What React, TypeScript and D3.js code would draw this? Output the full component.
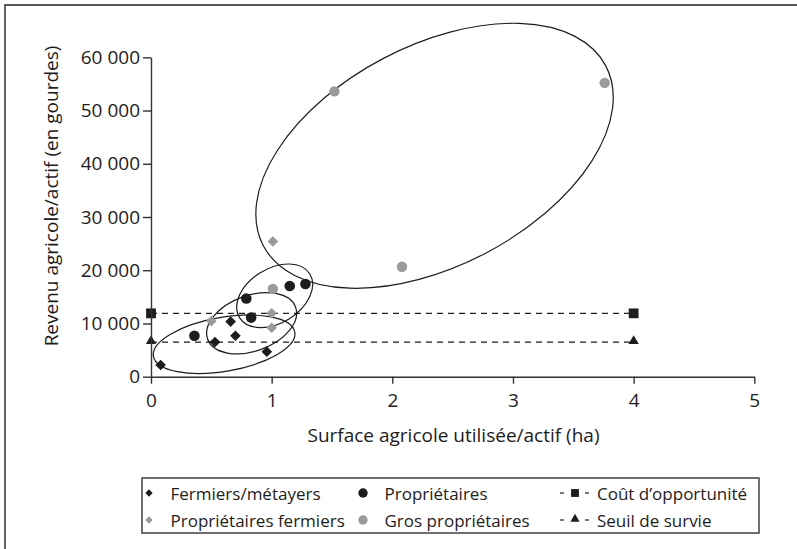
import { useEffect, useRef } from 'react';
import * as d3 from 'd3';

type Pt = [number, number];

// surface (ha/actif), revenu (gourdes/actif)
const fermiers: Pt[] = [[0.08, 2200], [0.53, 6500], [0.66, 10350], [0.70, 7700], [0.96, 4700]];
const proprietairesFermiers: Pt[] = [[0.50, 10450], [1.0, 11900], [1.0, 9200], [1.01, 25400]];
const proprietaires: Pt[] = [[0.36, 7700], [0.79, 14700], [0.83, 11100], [1.15, 17050], [1.28, 17400]];
const grosProprietaires: Pt[] = [[1.01, 16500], [1.52, 53600], [3.76, 55200], [2.08, 20650]];

const coutOpportunite = 11900;
const seuilSurvie = 6500;
const seuilExtent = [0, 4];

const xTicks = [0, 1, 2, 3, 4, 5];
const yTicks = [0, 10000, 20000, 30000, 40000, 50000, 60000];

// groupes entourés : centre en données, demi-axes en px, inclinaison en degrés
const groupes = [
  { cx: 0.606, cy: 6100, rx: 71.7, ry: 27, angle: -9.7 },
  { cx: 0.834, cy: 10040, rx: 46.8, ry: 27.8, angle: -20 },
  { cx: 1.025, cy: 15200, rx: 41.4, ry: 27.2, angle: -31.8 },
  { cx: 2.35, cy: 41500, rx: 193.4, ry: 110, angle: -27.7 },
];

const legendLabels = [
  'Fermiers/métayers', 'Propriétaires', 'Coût d’opportunité',
  'Propriétaires fermiers', 'Gros propriétaires', 'Seuil de survie',
];

const BLACK = '#1e1c1d';
const GRAY = '#9a9a9c';
const FONT = '"Open Sans", sans-serif';

const fr = d3.formatLocale({ decimal: ',', thousands: '\u00a0', grouping: [3], currency: ['', ' €'] });

export default function App() {
  const xAxisRef = useRef<SVGGElement | null>(null);
  const yAxisRef = useRef<SVGGElement | null>(null);

  const x = d3.scaleLinear().domain([0, 5]).range([151, 754.3]);
  const y = d3.scaleLinear().domain([0, 60000]).range([376.7, 57.3]);

  const diamond = d3.symbol(d3.symbolDiamond2, 72)()!;
  const diamondSmall = d3.symbol(d3.symbolDiamond2, 34)()!;
  const square = d3.symbol(d3.symbolSquare, 96)()!;
  const squareSmall = d3.symbol(d3.symbolSquare, 62)()!;
  const triangle = d3.symbol(d3.symbolTriangle, 46)()!;
  const triangleSmall = d3.symbol(d3.symbolTriangle, 36)()!;

  useEffect(() => {
    if (!xAxisRef.current || !yAxisRef.current) return;
    const gx = d3.select(xAxisRef.current);
    gx.call(d3.axisBottom(x).tickValues(xTicks).tickSize(7).tickPadding(10).tickSizeOuter(0).tickFormat(d3.format('d')));
    const gy = d3.select(yAxisRef.current);
    gy.call(d3.axisLeft(y).tickValues(yTicks).tickSize(8).tickPadding(3).tickSizeOuter(0).tickFormat(fr.format(',')));
    [gx, gy].forEach((g) => {
      g.attr('font-family', FONT).attr('font-size', 19);
      g.select('.domain').attr('stroke', '#333').attr('stroke-width', 1.4);
      g.selectAll('.tick line').attr('stroke', '#333').attr('stroke-width', 1.4);
      g.selectAll('.tick text').attr('fill', BLACK);
    });
  }, []);

  const legendRows = [493, 520];
  const legendCols = [149, 363, 575];

  return (
    <svg width={797} height={549} style={{ position: 'absolute', left: 0, top: 0 }} fontFamily={FONT}>
      <rect width={797} height={549} fill="#fff" />
      <path d="M5,549V5H797" fill="none" stroke="#555" strokeWidth={1.8} />

      {/* lignes de référence */}
      {[coutOpportunite, seuilSurvie].map((v) => (
        <line key={v} x1={x(seuilExtent[0])} x2={x(seuilExtent[1])} y1={y(v)} y2={y(v)}
          stroke={BLACK} strokeWidth={1.2} strokeDasharray="6,5" />
      ))}
      {seuilExtent.map((s) => (
        <g key={s}>
          <path d={square} transform={`translate(${x(s)},${y(coutOpportunite)})`} fill={BLACK} />
          <path d={triangle} transform={`translate(${x(s)},${y(seuilSurvie) - 1})`} fill={BLACK} />
        </g>
      ))}

      <g ref={xAxisRef} transform={`translate(0,${y(0)})`} />
      <g ref={yAxisRef} transform={`translate(${x(0)},0)`} />

      {/* ellipses */}
      {groupes.map((e, i) => (
        <ellipse key={i} cx={0} cy={0} rx={e.rx} ry={e.ry}
          transform={`translate(${x(e.cx)},${y(e.cy)}) rotate(${e.angle})`}
          fill="none" stroke={BLACK} strokeWidth={1.2} />
      ))}

      {/* points */}
      {fermiers.map((d, i) => (
        <path key={`f${i}`} d={diamond} transform={`translate(${x(d[0])},${y(d[1])})`} fill={BLACK} />
      ))}
      {proprietairesFermiers.map((d, i) => (
        <path key={`pf${i}`} d={diamond} transform={`translate(${x(d[0])},${y(d[1])})`} fill={GRAY} />
      ))}
      {proprietaires.map((d, i) => (
        <circle key={`p${i}`} cx={x(d[0])} cy={y(d[1])} r={5.3} fill={BLACK} />
      ))}
      {grosProprietaires.map((d, i) => (
        <circle key={`g${i}`} cx={x(d[0])} cy={y(d[1])} r={5.2} fill={GRAY} />
      ))}

      {/* titres des axes */}
      <text x={453.5} y={435} textAnchor="middle" dominantBaseline="central" fontSize={19} fill={BLACK}>
        Surface agricole utilisée/actif (ha)
      </text>
      <text transform="translate(51,196) rotate(-90)" textAnchor="middle" dominantBaseline="central" fontSize={19} fill={BLACK}>
        Revenu agricole/actif (en gourdes)
      </text>

      {/* légende */}
      <rect x={142} y={478} width={617} height={55} fill="none" stroke="#333" strokeWidth={1.4} />
      <path d={diamondSmall} transform={`translate(${legendCols[0]},${legendRows[0]})`} fill={BLACK} />
      <path d={diamondSmall} transform={`translate(${legendCols[0]},${legendRows[1]})`} fill={GRAY} />
      <circle cx={legendCols[1]} cy={legendRows[0]} r={4.7} fill={BLACK} />
      <circle cx={legendCols[1]} cy={legendRows[1]} r={4.7} fill={GRAY} />
      {legendRows.map((ry) => (
        <g key={ry}>
          <line x1={legendCols[2] - 15} x2={legendCols[2] - 11} y1={ry} y2={ry} stroke={BLACK} strokeWidth={1.2} />
          <line x1={legendCols[2] + 10} x2={legendCols[2] + 14} y1={ry} y2={ry} stroke={BLACK} strokeWidth={1.2} />
        </g>
      ))}
      <path d={squareSmall} transform={`translate(${legendCols[2]},${legendRows[0]})`} fill={BLACK} />
      <path d={triangleSmall} transform={`translate(${legendCols[2]},${legendRows[1] - 1})`} fill={BLACK} />
      {legendLabels.map((t, i) => (
        <text key={t} x={legendCols[i % 3] + (i % 3 === 2 ? 22 : 21.5)} y={legendRows[Math.floor(i / 3)]}
          dominantBaseline="central" fontSize={17} fill={BLACK}>
          {t}
        </text>
      ))}
    </svg>
  );
}
